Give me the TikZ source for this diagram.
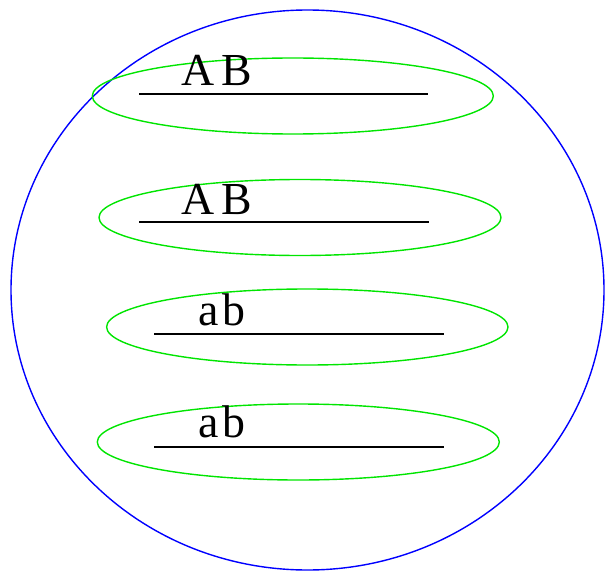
\documentclass[tikz,border=0pt]{standalone}
\usepackage{fontspec}
\setmainfont{Liberation Serif}
\usepackage{tikz}

\tikzset{
  loop/.style={green!90!black,line width=1.4bp},
  chrom/.style={black,line width=2.2bp},
  allele/.style={inner sep=0pt,anchor=base west,font=\fontsize{46}{52}\selectfont},
}

\begin{document}
\begin{tikzpicture}[x=1bp,y=-1bp]
\useasboundingbox (0,0) rectangle (607,573);
\draw[blue,line width=1.4bp] (307.5,290) ellipse [x radius=296.5,y radius=280];
% pairs
\draw[loop] (292.8,96) ellipse [x radius=200.5,y radius=38];
\draw[chrom] (139,94.3) -- (428,94.3);
\node[allele] (g1) at (181.7,85.7) {A\kern7bp B};
\draw[loop] (300,217.5) ellipse [x radius=201,y radius=38];
\draw[chrom] (139,222.3) -- (428.7,222.3);
\node[allele] (g2) at (181.7,214) {A\kern7bp B};
\draw[loop] (307.3,327) ellipse [x radius=200.7,y radius=38];
\draw[chrom] (154.3,334.3) -- (444.3,334.3);
\node[allele] (g3) at (198.3,325.7) {a\kern4bp b};
\draw[loop] (298.3,442) ellipse [x radius=201,y radius=38];
\draw[chrom] (154.3,446.7) -- (444.3,446.7);
\node[allele] (g4) at (198.3,437.7) {a\kern4bp b};
\end{tikzpicture}
\end{document}
